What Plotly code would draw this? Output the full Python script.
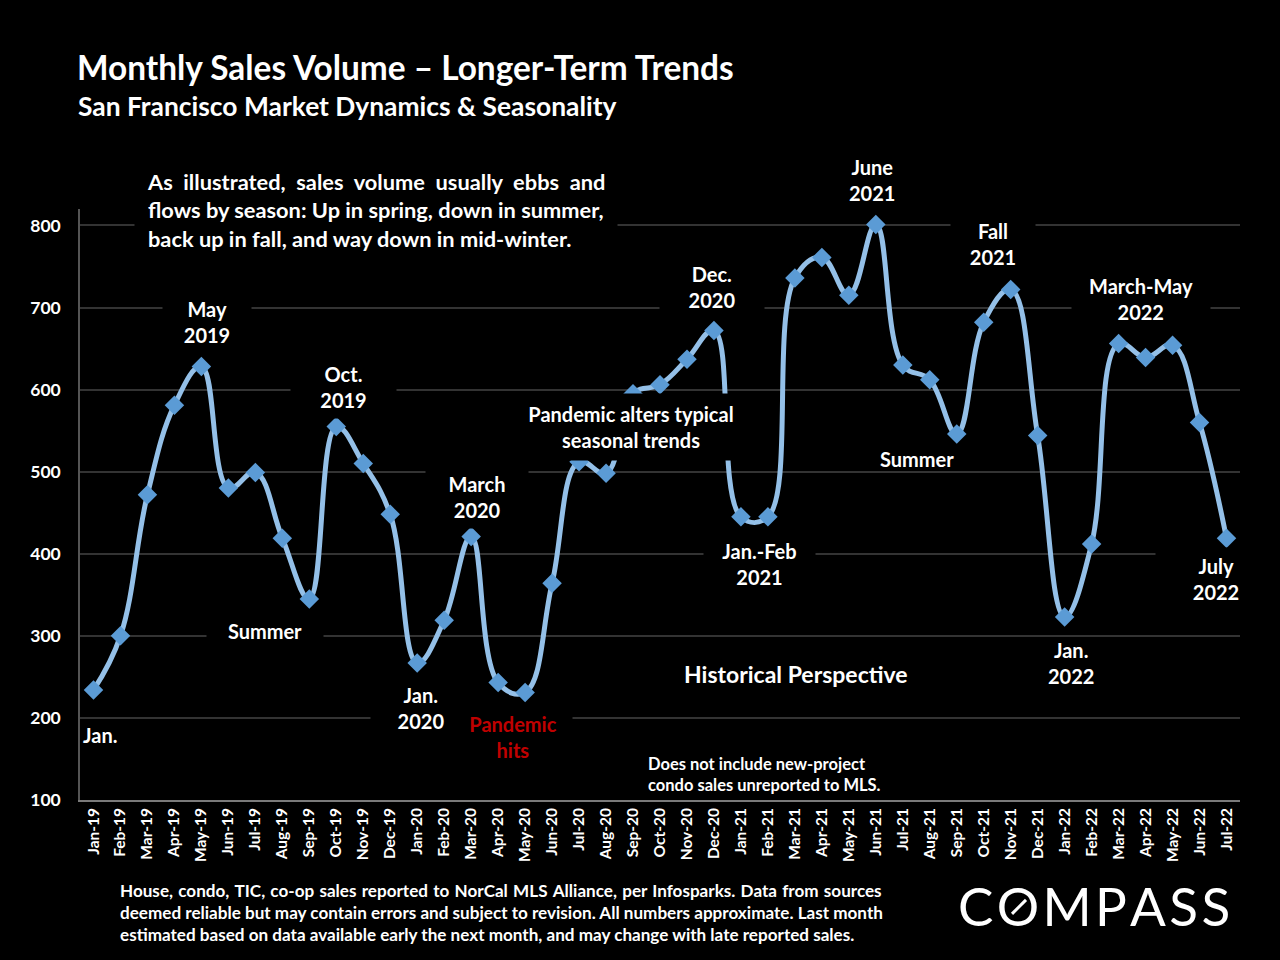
import plotly.graph_objects as go

months = [
    "Jan-19", "Feb-19", "Mar-19", "Apr-19", "May-19", "Jun-19", "Jul-19", "Aug-19", "Sep-19", "Oct-19", "Nov-19", "Dec-19",
    "Jan-20", "Feb-20", "Mar-20", "Apr-20", "May-20", "Jun-20", "Jul-20", "Aug-20", "Sep-20", "Oct-20", "Nov-20", "Dec-20",
    "Jan-21", "Feb-21", "Mar-21", "Apr-21", "May-21", "Jun-21", "Jul-21", "Aug-21", "Sep-21", "Oct-21", "Nov-21", "Dec-21",
    "Jan-22", "Feb-22", "Mar-22", "Apr-22", "May-22", "Jun-22", "Jul-22",
]
sales = [
    234, 300, 472, 581, 628, 480, 499, 419, 345, 555, 510, 448,
    267, 319, 421, 243, 231, 364, 512, 498, 595, 606, 637, 672,
    445, 445, 736, 761, 715, 801, 630, 612, 546, 682, 722, 544,
    323, 412, 656, 639, 654, 560, 419,
]
y_ticks = [100, 200, 300, 400, 500, 600, 700, 800]

W, H = 1280, 960
FONT = "Lato"
NB = "\u00a0"
GAP = "\u00a0\u200a"

fig = go.Figure()
fig.add_trace(go.Scatter(
    x=months, y=sales, mode="lines+markers",
    line=dict(color="#94C0E8", width=5, shape="spline", smoothing=1.15),
    marker=dict(symbol="diamond", size=15, color="#5B9BD5"),
    hoverinfo="x+y", showlegend=False,
))


def note(text, x, y, size=20, color="white", xanchor="center", align="center", bg="black", weight=700, pad=0, w=None, h=None):
    # x, y in page pixels, w/h = black box that masks the grid behind a label
    fig.add_annotation(
        xref="paper", yref="paper", x=(x - 80) / 1160, y=(800 - y) / (800 - 208.6),
        text=text, showarrow=False, xanchor=xanchor, yanchor="middle", align=align,
        font=dict(family=FONT, size=size, color=color, weight=weight),
        bgcolor=bg, borderpad=pad, width=w, height=h,
    )


# Headings
note("Monthly Sales Volume – Longer-Term Trends", 76, 67, size=33.4, xanchor="left", bg=None)
note("San Francisco Market Dynamics & Seasonality", 77, 106, size=26.4, xanchor="left", bg=None)

# Commentary
note(
    f"As{NB*2}illustrated,{NB*2}sales{NB*2}volume{NB*2}usually{NB*2}ebbs{NB*2}and<br>"
    "flows by season: Up in spring, down in summer,<br>"
    "back up in fall, and way down in mid-winter.",
    134, 210, size=21.8, xanchor="left", align="left", pad=12,
)

# Peak and trough labels
note("May<br>2019", 207, 322, w=88, h=62)
note("Oct.<br>2019", 343, 387, w=105, h=62)
note("March<br>2020", 477, 497, w=102, h=62)
note("Jan.<br>2020", 421, 708, w=100, h=58)
note("Pandemic<br>hits", 513, 737, color="#C00000", w=118, h=62)
note("Jan.", 100, 735, bg=None)
note("Summer", 265, 631, w=116, h=30)
note("Pandemic alters typical<br>seasonal trends", 631, 427, w=212, h=66)
note("Dec.<br>2020", 712, 287, w=104, h=60)
note("Jan.-Feb<br>2021", 760, 564, w=111, h=62)
note("June<br>2021", 872, 180, bg=None)
note("Summer", 917, 459, bg=None)
note("Fall<br>2021", 993, 244, w=84, h=62)
note("March-May<br>2022", 1141, 299, w=138, h=60)
note("Jan.<br>2022", 1071, 663, bg=None)
note("July<br>2022", 1216, 579, w=120, h=62)
note("Historical Perspective", 796, 674, size=23, bg=None)
note("Does not include new-project<br>condo sales unreported to MLS.", 647, 774, size=16.5, xanchor="left", align="left", bg=None)

# Footnote
note(
    GAP.join("House, condo, TIC, co-op sales reported to NorCal MLS Alliance, per Infosparks. Data from sources".split(" ")) + "<br>"
    "deemed reliable but may contain errors and subject to revision. All numbers approximate. Last month<br>"
    "estimated based on data available early the next month, and may change with late reported sales.",
    119, 913, size=17.1, xanchor="left", align="left", bg=None,
)

# Logo
note("C\u200aO\u200aM\u200aP\u200aA\u200aS\u200aS", 1094, 906, size=53, bg=None, weight=400)
fig.add_shape(
    type="line", xref="paper", yref="paper",
    x0=(1012 - 80) / 1160, x1=(1026 - 80) / 1160,
    y0=(800 - 914) / (800 - 208.6), y1=(800 - 900) / (800 - 208.6),
    line=dict(color="white", width=3),
)

fig.update_layout(
    width=W, height=H,
    margin=dict(l=80, r=40, t=208.6, b=160),
    paper_bgcolor="black", plot_bgcolor="black",
    showlegend=False,
    font=dict(family=FONT, color="white"),
    xaxis=dict(
        type="category", categoryorder="array", categoryarray=months,
        range=[-0.5, 42.5], tickangle=-90, ticks="", showgrid=False,
        showline=True, linecolor="#7a7a7a", linewidth=1.5,
        tickfont=dict(family=FONT, size=15.5, color="white", weight=700),
    ),
    yaxis=dict(
        range=[100, 820], tickvals=y_ticks, ticks="", ticklabelstandoff=14,
        showgrid=True, gridcolor="#333333", gridwidth=1.5, zeroline=False,
        showline=True, linecolor="#555555", linewidth=1.5,
        tickfont=dict(family=FONT, size=17.5, color="white", weight=700),
    ),
)

# drop the browser's default page margin so the chart fills the window
fig.write_html(
    "out.html",
    config={"displayModeBar": False},
    post_script="document.body.style.margin='0';document.body.style.background='black';document.body.style.overflow='hidden';",
)
